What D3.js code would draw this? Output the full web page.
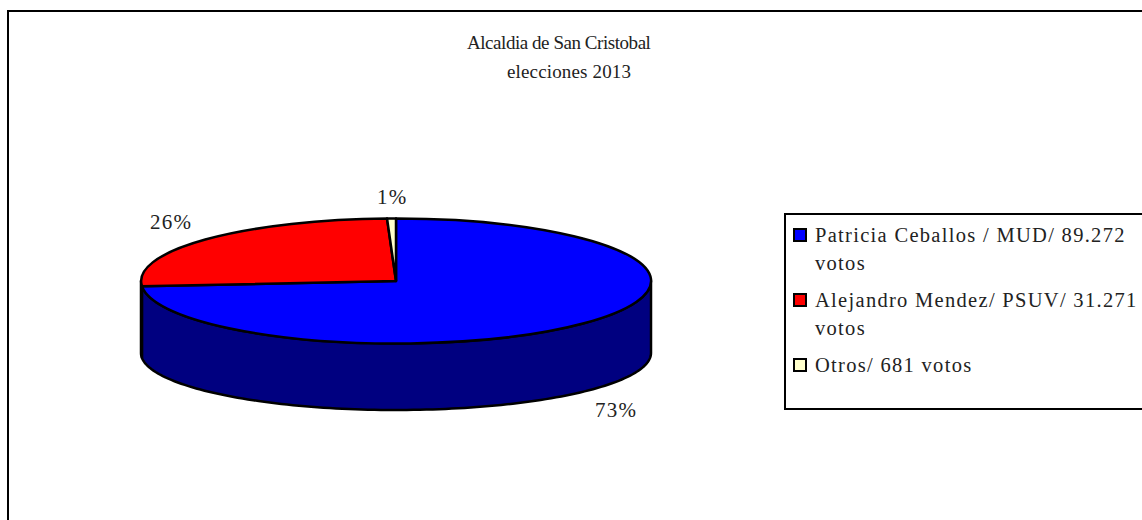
<!DOCTYPE html>
<html>
<head>
<meta charset="utf-8">
<script src="https://cdn.jsdelivr.net/npm/d3@7"></script>
<style>
  html, body { margin: 0; background: #fff; overflow: hidden; }
  svg { display: block; }
  text { font-family: "Liberation Serif", serif; fill: #222; }
</style>
</head>
<body>
<div id="chart"></div>
<script>
const categories = ["Patricia Ceballos / MUD", "Alejandro Mendez/ PSUV", "Otros"];
const votes = [89272, 31271, 681];
const percentLabels = ["73%", "26%", "1%"];
const colors = ["#0000ff", "#ff0000", "#ffffcc"];
const wallColor = "#000080";
const legendLines = [
  ["Patricia Ceballos / MUD/ 89.272", "votos"],
  ["Alejandro Mendez/ PSUV/ 31.271", "votos"],
  ["Otros/ 681 votos"]
];
const titleLines = ["Alcaldia de San Cristobal", "elecciones 2013"];

const width = 1142, height = 520;
const cx = 396, cy = 281, rx = 255, ry = 62.5;
// the lower rim of the wall is a bit flatter than the top face
const wallCy = 353, wallRy = 57;

const svg = d3.select("#chart").append("svg")
  .attr("width", width)
  .attr("height", height);

// outer frame, right and bottom edges run off the picture
svg.append("rect")
  .attr("x", 8).attr("y", 11)
  .attr("width", width + 20).attr("height", height + 20)
  .attr("fill", "#fff").attr("stroke", "#000").attr("stroke-width", 2);

svg.selectAll(".title")
  .data(titleLines)
  .enter().append("text")
  .attr("class", "title")
  .attr("x", (d, i) => i === 0 ? 467 : 507)
  .attr("y", (d, i) => i === 0 ? 49 : 78)
  .style("font-size", "19px")
  .style("letter-spacing", (d, i) => i === 0 ? "-0.45px" : "0.15px")
  .text(d => d);

const pie = d3.pie().sort(null).value(d => d.votes);
const slices = pie(categories.map((name, i) => ({ name, votes: votes[i], color: colors[i] })));

const px = d3.scaleLinear().domain([-1, 1]).range([cx - rx, cx + rx]);
const py = d3.scaleLinear().domain([-1, 1]).range([cy - ry, cy + ry]);
const pyLow = d3.scaleLinear().domain([-1, 1]).range([wallCy - wallRy, wallCy + wallRy]);
const line = d3.line();

// wall of the cake: only the part of a slice facing the viewer
const wall = svg.append("g");
slices.forEach(s => {
  const a0 = Math.max(s.startAngle, Math.PI / 2);
  const a1 = Math.min(s.endAngle, 3 * Math.PI / 2);
  if (a1 <= a0) return;
  const angles = d3.range(0, 121).map(k => a0 + (a1 - a0) * k / 120);
  const upper = angles.map(a => [px(Math.sin(a)), py(-Math.cos(a))]);
  const lower = angles.slice().reverse().map(a => [px(Math.sin(a)), pyLow(-Math.cos(a))]);
  wall.append("path")
    .attr("d", line(upper.concat(lower)) + "Z")
    .attr("fill", wallColor)
    .attr("stroke", "#000")
    .attr("stroke-width", 2.5)
    .attr("stroke-linejoin", "round");
});

const arc = d3.arc().innerRadius(0).outerRadius(1);
svg.append("g")
  .attr("transform", `translate(${cx},${cy}) scale(${rx},${ry})`)
  .selectAll("path")
  .data(slices)
  .enter().append("path")
  .attr("d", arc)
  .attr("fill", d => d.data.color)
  .attr("stroke", "#000")
  .attr("stroke-width", 2.5)
  .attr("stroke-linejoin", "round")
  .attr("vector-effect", "non-scaling-stroke");

// percent labels sit outside the rim
const labelPos = [[595, 417], [150, 229], [377, 204]];
svg.selectAll(".pct")
  .data(percentLabels)
  .enter().append("text")
  .attr("class", "pct")
  .attr("x", (d, i) => labelPos[i][0])
  .attr("y", (d, i) => labelPos[i][1])
  .style("font-size", "21px")
  .style("letter-spacing", "1.2px")
  .text(d => d);

// legend box
svg.append("rect")
  .attr("x", 785).attr("y", 214)
  .attr("width", 400).attr("height", 195)
  .attr("fill", "#fff").attr("stroke", "#000").attr("stroke-width", 2);

const legendTop = [242, 307, 372];
const legend = svg.selectAll(".legend-item")
  .data(legendLines)
  .enter().append("g")
  .attr("class", "legend-item")
  .attr("transform", (d, i) => `translate(794,${legendTop[i]})`);

legend.append("rect")
  .attr("x", 0).attr("y", -13)
  .attr("width", 12).attr("height", 12)
  .attr("fill", (d, i) => colors[i])
  .attr("stroke", "#000")
  .attr("stroke-width", 2);

legend.selectAll("text")
  .data(d => d)
  .enter().append("text")
  .attr("x", 21)
  .attr("y", (d, i) => i * 28)
  .style("font-size", "20.5px")
  .style("letter-spacing", "1.3px")
  .text(d => d);
</script>
</body>
</html>
